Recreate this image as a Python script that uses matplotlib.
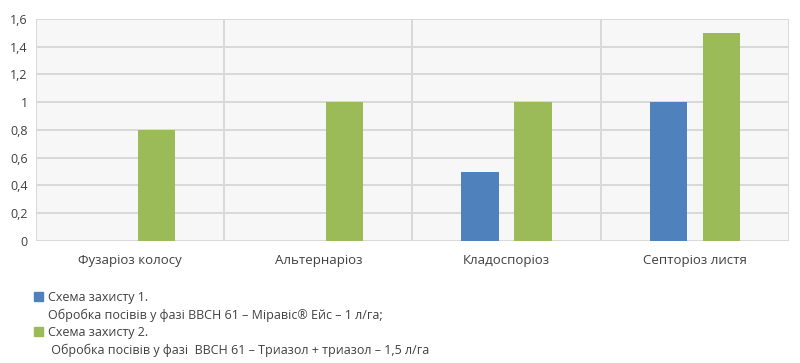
import numpy as np
import matplotlib
matplotlib.use('Agg')
import matplotlib.pyplot as plt
from matplotlib.patches import Patch

plt.rcParams['font.family'] = ['Open Sans', 'DejaVu Sans']
plt.rcParams['hatch.color'] = '#e2e2e2'
plt.rcParams['hatch.linewidth'] = 0.6

categories = ['Фузаріоз колосу', 'Альтернаріоз', 'Кладоспоріоз', 'Септоріоз листя']
scheme1 = [0, 0, 0.5, 1.0]
scheme2 = [0.8, 1.0, 1.0, 1.5]
yticks = [0, 0.2, 0.4, 0.6, 0.8, 1.0, 1.2, 1.4, 1.6]
ytick_labels = ['0', '0,2', '0,4', '0,6', '0,8', '1', '1,2', '1,4', '1,6']
legend_labels = ['Схема захисту 1.',
                 'Обробка посівів у фазі BBCH 61 – Міравіс® Ейс – 1 л/га;',
                 'Схема захисту 2.',
                 ' Обробка посівів у фазі  BBCH 61 – Триазол + триазол – 1,5 л/га']

blue = '#4f81bd'
green = '#9bbb59'
gridc = '#d9d9d9'

fig = plt.figure(figsize=(8, 3.63), dpi=100)
ax = fig.add_axes([0.045, 0.336, 0.941, 0.612])
ax.set_facecolor('#f7f7f7')
ax.patch.set_hatch('//////')

x = np.arange(len(categories))
w = 0.197
off = 0.141
ax.bar(x - off, scheme1, w, color=blue, zorder=3)
ax.bar(x + off, scheme2, w, color=green, zorder=3)

ax.set_xlim(-0.5, len(categories) - 0.5)
ax.set_ylim(0, 1.6)
ax.set_yticks(yticks)
ax.set_yticklabels(ytick_labels)
ax.set_xticks(x)
ax.set_xticklabels(categories)
ax.tick_params(length=0, labelsize=9, colors='#404040', pad=6)
ax.tick_params(axis='x', labelsize=9.5, pad=9)

for yv in yticks:
    ax.axhline(yv, color=gridc, lw=1.4, zorder=1)
for xv in np.arange(-0.5, len(categories), 1.0):
    ax.axvline(xv, color=gridc, lw=1.4, zorder=1)
for s in ax.spines.values():
    s.set_visible(False)

handles = [Patch(color=blue), Patch(color='none'), Patch(color=green), Patch(color='none')]
fig.legend(handles, legend_labels, loc='upper left', bbox_to_anchor=(0.042, 0.198),
           frameon=False, fontsize=9, handlelength=0.75, handleheight=0.75,
           handletextpad=0.4, labelspacing=0.35, borderaxespad=0, borderpad=0,
           labelcolor='#404040')

fig.savefig('out.png', dpi=100, facecolor='white')
